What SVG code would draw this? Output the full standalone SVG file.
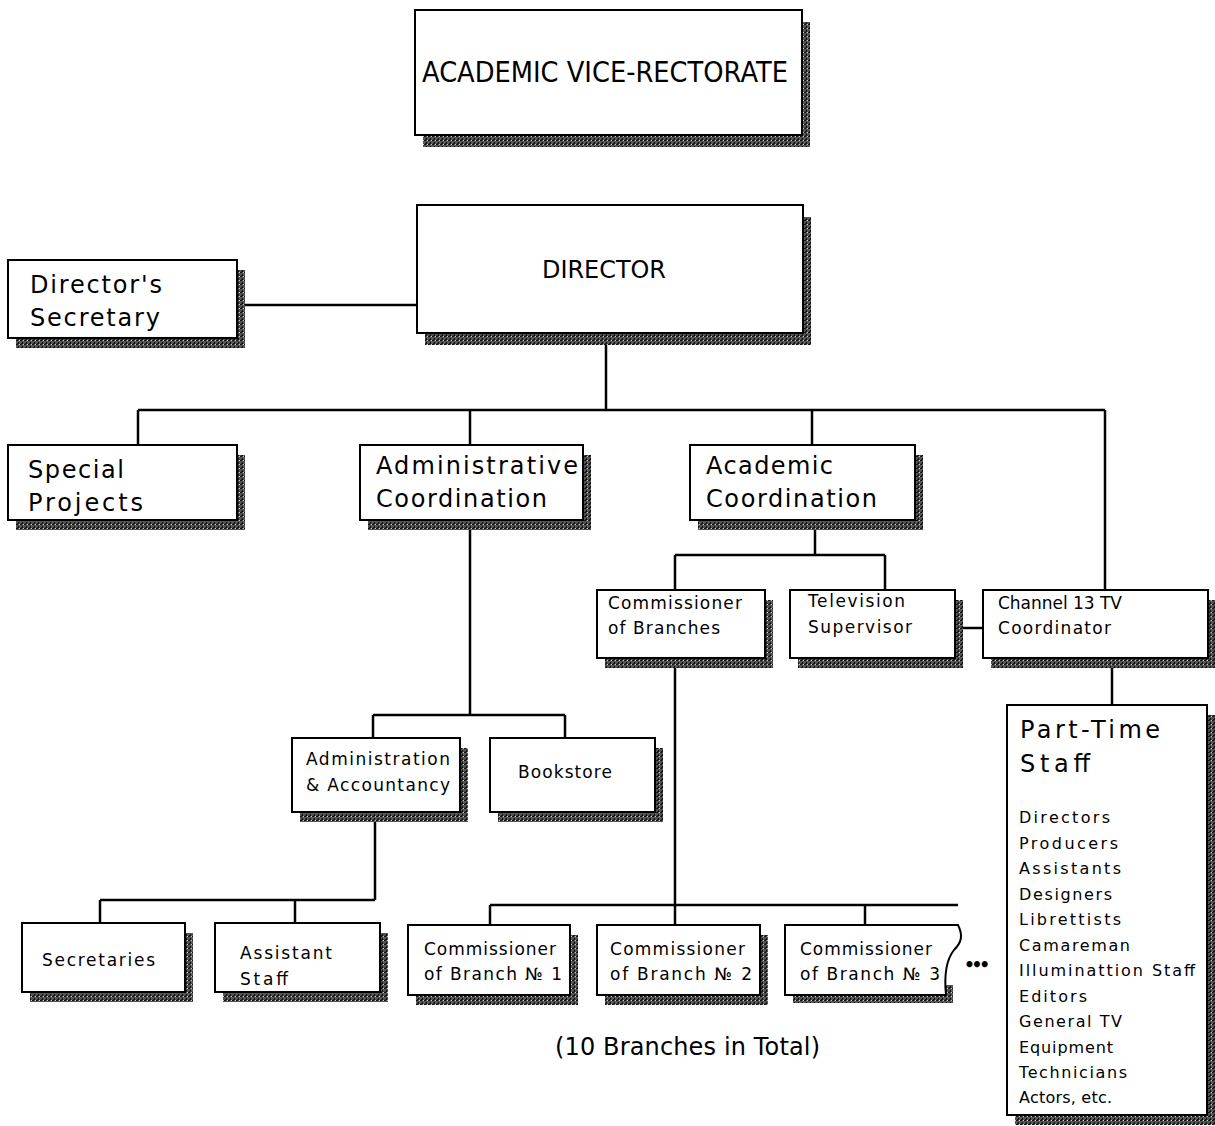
<svg xmlns="http://www.w3.org/2000/svg" width="1215" height="1126" viewBox="0 0 1215 1126">
<defs>
<pattern id="st" width="4" height="4" patternUnits="userSpaceOnUse">
<rect width="4" height="4" fill="#555"/>
<rect x="0" y="0" width="2" height="1" fill="#111"/>
<rect x="2" y="2" width="1" height="2" fill="#111"/>
<rect x="3" y="0" width="1" height="1" fill="#ccc"/>
<rect x="1" y="3" width="1" height="1" fill="#222"/>
</pattern>
<style>
.box{fill:#fff;stroke:#000;stroke-width:2}
.sh{fill:url(#st)}
.t{font-family:"DejaVu Sans","Liberation Sans",sans-serif;fill:#000}
.xl{font-size:29px}
.l{font-size:24px}
.m{font-size:24px}
.s{font-size:17px}
.xs{font-size:16px}
#connectors path{stroke:#000;stroke-width:2.5;fill:none}
</style>
</defs>
<rect width="1215" height="1126" fill="#fff"/>

<g id="connectors">
<path d="M245,305 H417"/>
<path d="M606,341 V410"/>
<path d="M138,410 H1105"/>
<path d="M138,410 V445"/>
<path d="M470,410 V445"/>
<path d="M812,410 V445"/>
<path d="M1105,410 V590"/>
<path d="M470,528 V715"/>
<path d="M373,715 H565"/>
<path d="M373,715 V738"/>
<path d="M565,715 V738"/>
<path d="M815,528 V555"/>
<path d="M675,555 H885"/>
<path d="M675,555 V590"/>
<path d="M885,555 V590"/>
<path d="M963,628 H983"/>
<path d="M1112,666 V705"/>
<path d="M675,666 V905"/>
<path d="M490,905 H958"/>
<path d="M490,905 V925"/>
<path d="M675,905 V925"/>
<path d="M865,905 V925"/>
<path d="M375,820 V900"/>
<path d="M100,900 H375"/>
<path d="M100,900 V923"/>
<path d="M295,900 V923"/>
</g>

<g id="vice-rectorate">
<rect class="sh" x="423" y="22" width="387" height="125"/>
<rect class="box" x="415" y="10" width="387" height="125"/>
<text class="t xl" x="422" y="82" textLength="366" lengthAdjust="spacingAndGlyphs">ACADEMIC VICE-RECTORATE</text>
</g>

<g id="director">
<rect class="sh" x="425" y="217" width="386" height="128"/>
<rect class="box" x="417" y="205" width="386" height="128"/>
<text class="t l" x="542" y="278" textLength="124" lengthAdjust="spacingAndGlyphs">DIRECTOR</text>
</g>

<g id="directors-secretary">
<rect class="sh" x="16" y="270" width="229" height="78"/>
<rect class="box" x="8" y="260" width="229" height="78"/>
<text class="t m" x="30" y="293" textLength="132" lengthAdjust="spacing">Director's</text>
<text class="t m" x="30" y="326" textLength="130" lengthAdjust="spacing">Secretary</text>
</g>

<g id="special-projects">
<rect class="sh" x="16" y="455" width="229" height="75"/>
<rect class="box" x="8" y="445" width="229" height="75"/>
<text class="t m" x="28" y="478" textLength="96" lengthAdjust="spacing">Special</text>
<text class="t m" x="28" y="511" textLength="115" lengthAdjust="spacing">Projects</text>
</g>

<g id="administrative-coordination">
<rect class="sh" x="368" y="455" width="223" height="75"/>
<rect class="box" x="360" y="445" width="223" height="75"/>
<text class="t m" x="376" y="474" textLength="202" lengthAdjust="spacing">Administrative</text>
<text class="t m" x="376" y="507" textLength="171" lengthAdjust="spacing">Coordination</text>
</g>

<g id="academic-coordination">
<rect class="sh" x="698" y="455" width="225" height="75"/>
<rect class="box" x="690" y="445" width="225" height="75"/>
<text class="t m" x="706" y="474" textLength="127" lengthAdjust="spacing">Academic</text>
<text class="t m" x="706" y="507" textLength="171" lengthAdjust="spacing">Coordination</text>
</g>

<g id="commissioner-of-branches">
<rect class="sh" x="605" y="600" width="168" height="68"/>
<rect class="box" x="597" y="590" width="168" height="68"/>
<text class="t s" x="608" y="609" textLength="134" lengthAdjust="spacing">Commissioner</text>
<text class="t s" x="608" y="634" textLength="112" lengthAdjust="spacing">of Branches</text>
</g>

<g id="television-supervisor">
<rect class="sh" x="798" y="600" width="165" height="68"/>
<rect class="box" x="790" y="590" width="165" height="68"/>
<text class="t s" x="808" y="607" textLength="97" lengthAdjust="spacing">Television</text>
<text class="t s" x="808" y="633" textLength="104" lengthAdjust="spacing">Supervisor</text>
</g>

<g id="channel-13-tv-coordinator">
<rect class="sh" x="991" y="600" width="225" height="68"/>
<rect class="box" x="983" y="590" width="225" height="68"/>
<text class="t s" x="998" y="609" textLength="124" lengthAdjust="spacing">Channel 13 TV</text>
<text class="t s" x="998" y="634" textLength="113" lengthAdjust="spacing">Coordinator</text>
</g>

<g id="part-time-staff">
<rect class="sh" x="1015" y="715" width="200" height="410"/>
<rect class="box" x="1007" y="705" width="200" height="410"/>
<text class="t m" x="1020" y="738" textLength="140" lengthAdjust="spacing">Part-Time</text>
<text class="t m" x="1020" y="772" textLength="70" lengthAdjust="spacing">Staff</text>
<text class="t xs" x="1019" y="823" textLength="91" lengthAdjust="spacing">Directors</text>
<text class="t xs" x="1019" y="849" textLength="99" lengthAdjust="spacing">Producers</text>
<text class="t xs" x="1019" y="874" textLength="102" lengthAdjust="spacing">Assistants</text>
<text class="t xs" x="1019" y="900" textLength="93" lengthAdjust="spacing">Designers</text>
<text class="t xs" x="1019" y="925" textLength="102" lengthAdjust="spacing">Librettists</text>
<text class="t xs" x="1019" y="951" textLength="111" lengthAdjust="spacing">Camareman</text>
<text class="t xs" x="1019" y="976" textLength="176" lengthAdjust="spacing">Illuminattion Staff</text>
<text class="t xs" x="1019" y="1002" textLength="68" lengthAdjust="spacing">Editors</text>
<text class="t xs" x="1019" y="1027" textLength="103" lengthAdjust="spacing">General TV</text>
<text class="t xs" x="1019" y="1053" textLength="94" lengthAdjust="spacing">Equipment</text>
<text class="t xs" x="1019" y="1078" textLength="108" lengthAdjust="spacing">Technicians</text>
<text class="t xs" x="1019" y="1103" textLength="93" lengthAdjust="spacing">Actors, etc.</text>
</g>

<g id="administration-accountancy">
<rect class="sh" x="300" y="748" width="168" height="74"/>
<rect class="box" x="292" y="738" width="168" height="74"/>
<text class="t s" x="306" y="765" textLength="144" lengthAdjust="spacing">Administration</text>
<text class="t s" x="306" y="791" textLength="144" lengthAdjust="spacing">&amp; Accountancy</text>
</g>

<g id="bookstore">
<rect class="sh" x="498" y="748" width="165" height="74"/>
<rect class="box" x="490" y="738" width="165" height="74"/>
<text class="t s" x="518" y="778" textLength="94" lengthAdjust="spacing">Bookstore</text>
</g>

<g id="secretaries">
<rect class="sh" x="30" y="933" width="163" height="69"/>
<rect class="box" x="22" y="923" width="163" height="69"/>
<text class="t s" x="42" y="966" textLength="113" lengthAdjust="spacing">Secretaries</text>
</g>

<g id="assistant-staff">
<rect class="sh" x="223" y="933" width="165" height="69"/>
<rect class="box" x="215" y="923" width="165" height="69"/>
<text class="t s" x="240" y="959" textLength="92" lengthAdjust="spacing">Assistant</text>
<text class="t s" x="240" y="985" textLength="48" lengthAdjust="spacing">Staff</text>
</g>

<g id="branch-1">
<rect class="sh" x="416" y="935" width="162" height="70"/>
<rect class="box" x="408" y="925" width="162" height="70"/>
<text class="t s" x="424" y="955" textLength="132" lengthAdjust="spacing">Commissioner</text>
<text class="t s" x="424" y="980" textLength="138" lengthAdjust="spacing">of Branch № 1</text>
</g>

<g id="branch-2">
<rect class="sh" x="605" y="935" width="163" height="70"/>
<rect class="box" x="597" y="925" width="163" height="70"/>
<text class="t s" x="610" y="955" textLength="135" lengthAdjust="spacing">Commissioner</text>
<text class="t s" x="610" y="980" textLength="142" lengthAdjust="spacing">of Branch № 2</text>
</g>

<g id="branch-3">
<path class="sh" d="M793,985 H953 V1003 H793 Z"/>
<path class="box" d="M785,925 H958 C963,935 962,942 954,950 C946,960 944,975 946,995 H785 Z"/>
<text class="t s" x="800" y="955" textLength="132" lengthAdjust="spacing">Commissioner</text>
<text class="t s" x="800" y="980" textLength="140" lengthAdjust="spacing">of Branch № 3</text>
</g>

<g id="ellipsis">
<text class="t s" x="964" y="971" font-weight="bold" textLength="26" lengthAdjust="spacing">•••</text>
</g>

<g id="caption">
<text class="t m" x="555" y="1055" textLength="265" lengthAdjust="spacing">(10 Branches in Total)</text>
</g>
</svg>
